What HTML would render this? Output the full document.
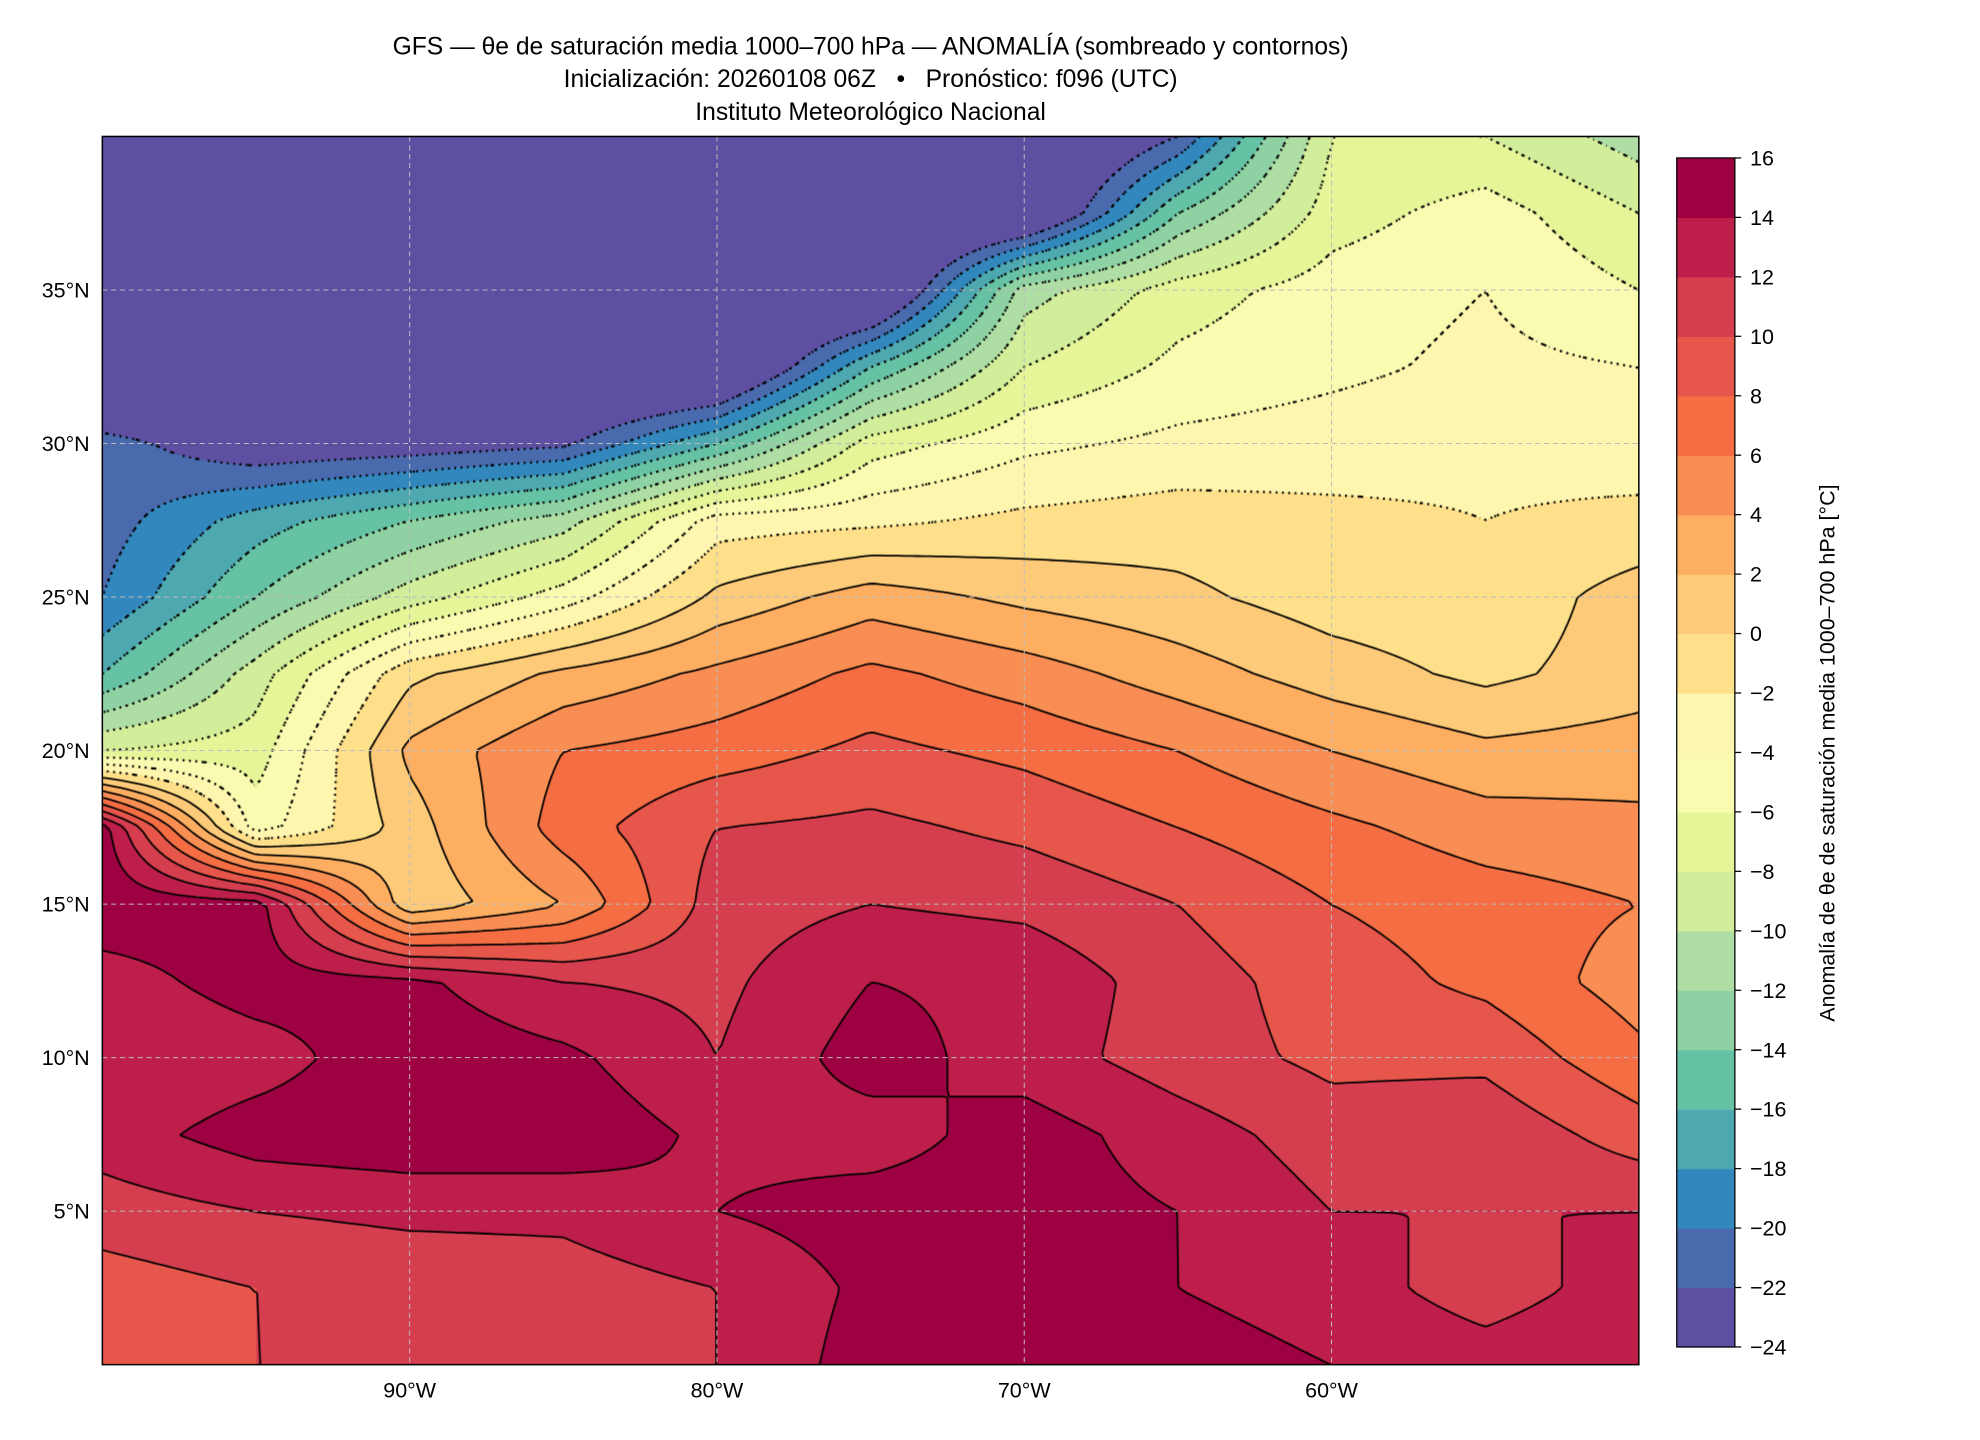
<!DOCTYPE html>
<html><head><meta charset="utf-8">
<style>
html,body{margin:0;padding:0;background:#fff;}
#wrap{position:absolute;left:0;top:0;width:1567px;height:1140px;transform:scale(1.26356);transform-origin:0 0;font-family:"Liberation Sans","DejaVu Sans",sans-serif;color:#000;}
.t{position:absolute;white-space:nowrap;}
</style></head>
<body>
<div id="wrap">
  <div class="t" style="left:0;width:1378px;top:24px;text-align:center;font-size:19.5px;line-height:26px;">GFS — θe de saturación media 1000–700 hPa — ANOMALÍA (sombreado y contornos)<br>Inicialización: 20260108 06Z &nbsp;&nbsp;•&nbsp;&nbsp; Pronóstico: f096 (UTC)<br>Instituto Meteorológico Nacional</div>
  <canvas id="map" width="1537" height="1228" style="position:absolute;left:81px;top:108px;width:1216px;height:972px;"></canvas>
  <svg id="ov" width="1567" height="1140" style="position:absolute;left:0;top:0;"></svg>
</div>
<script>
// grid: lon -100..-50 step 5, lat 40..0 step 2.5
const lons=[-100,-95,-90,-85,-80,-75,-70,-65,-60,-55,-50];
const lats=[40,37.5,35,32.5,30,27.5,25,22.5,20,17.5,15,12.5,10,7.5,5,2.5,0];
const row40=[-28,-28,-28,-28,-28,-28,-28,-22,-8,-8,-11];
const row375=[-28,-28,-28,-28,-28,-28,-27,-14,-7,-5,-8];
const row35=[-28,-28,-28,-28,-28,-28,-11,-7,-5,-4,-6];
const row325=[-28,-28,-28,-28,-28,-16,-8,-5.5,-4.5,-3.5,-4];
const row30=[-21,-24,-23.5,-22.5,-16,-7,-4.5,-3.5,-3,-2.5,-3];
const row275=[-21,-17,-14,-11,-3,-2.5,-1.5,-1,-1.5,-2,-1.5];
const row25=[-20,-14,-9,-5,0.5,3,1.5,0.5,-1,-1.5,1];
const row225=[-16,-9,-0.5,2.5,4.5,6.5,5,3,1,-0.5,1];
const row20=[-8,-7,2.5,6,7,8.5,7.5,6,4,2.5,3];
const row175=[15,-5,1,7,10,10.5,9.5,8,6.5,5,4.5];
const row15=[15.5,15,0.5,4,11,12,11.5,10,8,7,6];
const row125=[13,15,14.5,12,11.5,14,13.5,11,9,7.5,5];
const row10=[12,13,15.5,14.5,12,15,13,11,9.5,9.5,6.5];
const row75=[13,15,15.5,15.5,13.5,13,15,13,11,11.5,9];
const row5=[11,12,12.5,12.5,14,15,15,14,12,12,12];
const row25s=[9,10,10.5,11,12,14.5,15.5,14,13,11,13];
const row0=[8,10,10,10.5,12,15,15.5,15,14,13,14];
const grid=[row40,row375,row35,row325,row30,row275,row25,row225,row20,row175,row15,row125,row10,row75,row5,row25s,row0];
const levels=[-24,-22,-20,-18,-16,-14,-12,-10,-8,-6,-4,-2,0,2,4,6,8,10,12,14,16];
const tickLabels=["16","14","12","10","8","6","4","2","0","−2","−4","−6","−8","−10","−12","−14","−16","−18","−20","−22","−24"];
const colors=["#5e4fa2","#4a6aae","#3288bd","#4ea8b0","#66c2a5","#8ed2a4","#aedea3","#d3ee9b","#e6f598","#f8fbb0","#fef5ae","#fee08b","#fdca79","#fdae61","#f88e53","#f46d43","#e6564b","#d53e4f","#be1e4a","#9e0142"];
const lonTicks=[-90,-80,-70,-60];
const latTicks=[35,30,25,20,15,10,5];

const MX=81,MY=108,MW=1216,MH=972;
const LON0=-100,LON1=-50,LAT0=0,LAT1=40;
function xOf(lon){return MX+(lon-LON0)/(LON1-LON0)*MW;}
function yOf(lat){return MY+(LAT1-lat)/(LAT1-LAT0)*MH;}
function val(lon,lat){
  let c=(lon-lons[0])/5, r=(lats[0]-lat)/2.5;
  c=Math.max(0,Math.min(lons.length-1.0001,c)); r=Math.max(0,Math.min(lats.length-1.0001,r));
  const i=Math.floor(c),j=Math.floor(r),fx=c-i,fy=r-j;
  const a=grid[j][i],b=grid[j][i+1],d=grid[j+1][i],e=grid[j+1][i+1];
  return a*(1-fx)*(1-fy)+b*fx*(1-fy)+d*(1-fx)*fy+e*fx*fy;
}
function hex(h){return [parseInt(h.substr(1,2),16),parseInt(h.substr(3,2),16),parseInt(h.substr(5,2),16)];}
const rgb=colors.map(hex);
function band(v){let k=Math.floor((v-levels[0])/2);return Math.max(0,Math.min(colors.length-1,k));}

const cv=document.getElementById('map'),ctx=cv.getContext('2d');
const W=cv.width,H=cv.height,img=ctx.createImageData(W,H);
for(let py=0;py<H;py++){const lat=LAT1-(py+0.5)/H*(LAT1-LAT0);
  for(let px=0;px<W;px++){const lon=LON0+(px+0.5)/W*(LON1-LON0);
    const c=rgb[band(val(lon,lat))],o=(py*W+px)*4;
    img.data[o]=c[0];img.data[o+1]=c[1];img.data[o+2]=c[2];img.data[o+3]=255;}}
ctx.putImageData(img,0,0);

const sx=W/MW;
ctx.save();ctx.scale(sx,sx);ctx.strokeStyle='#000';
const step=5,NX=Math.ceil(MW/step)+1,NY=Math.ceil(MH/step)+1;
const F=[];for(let j=0;j<NY;j++){F[j]=[];for(let i=0;i<NX;i++){const x=Math.min(i*step,MW),y=Math.min(j*step,MH);F[j][i]=val(LON0+x/MW*(LON1-LON0),LAT1-y/MH*(LAT1-LAT0));}}
levels.forEach(L=>{
  if(L<=-24||L>=16)return;
  ctx.beginPath();
  for(let j=0;j<NY-1;j++)for(let i=0;i<NX-1;i++){
    const x0=i*step,y0=j*step,x1=Math.min(x0+step,MW),y1=Math.min(y0+step,MH);
    const v=[F[j][i],F[j][i+1],F[j+1][i+1],F[j+1][i]];
    const p=[[x0,y0],[x1,y0],[x1,y1],[x0,y1]];
    const pts=[];
    for(let k=0;k<4;k++){const a=v[k],b=v[(k+1)%4];
      if((a<L)!==(b<L)){const t=(L-a)/(b-a);const A=p[k],B=p[(k+1)%4];pts.push([A[0]+(B[0]-A[0])*t,A[1]+(B[1]-A[1])*t]);}}
    for(let k=0;k+1<pts.length;k+=2){ctx.moveTo(pts[k][0],pts[k][1]);ctx.lineTo(pts[k+1][0],pts[k+1][1]);}
  }
  if(L<0){ctx.setLineDash([1.5,3.5]);ctx.lineWidth=1.8;}else{ctx.setLineDash([]);ctx.lineWidth=1.4;}
  ctx.stroke();
});
ctx.restore();

const NS='http://www.w3.org/2000/svg',ov=document.getElementById('ov');
function mk(tag,attrs,parent){const e=document.createElementNS(NS,tag);for(const k in attrs)e.setAttribute(k,attrs[k]);(parent||ov).appendChild(e);return e;}
lonTicks.forEach(lon=>{
  const x=xOf(lon);
  const g=mk('line',{x1:x,x2:x,y1:MY,y2:MY+MH,stroke:'#bbb','stroke-width':0.8,'stroke-dasharray':'4 3'});
  
  
  const t=mk('text',{x:x,y:1106,'text-anchor':'middle','font-size':17,'font-family':'Liberation Sans, sans-serif'});
  t.textContent=(-lon)+'°W';
  
  
});
latTicks.forEach(lat=>{
  const y=yOf(lat);
  const g=mk('line',{x1:MX,x2:MX+MW,y1:y,y2:y,stroke:'#bbb','stroke-width':0.8,'stroke-dasharray':'4 3'});
  
  
  const t=mk('text',{x:71,y:y+6,'text-anchor':'end','font-size':17,'font-family':'Liberation Sans, sans-serif'});
  t.textContent=lat+'°N';
  
  
});
const fr=mk('rect',{x:MX,y:MY,width:MW,height:MH,fill:'none',stroke:'#000','stroke-width':1.2});



const CX=1327,CW=46,CY0=125,CY1=1066;
function cy(v){return CY1-(v-levels[0])/(levels[levels.length-1]-levels[0])*(CY1-CY0);}
colors.forEach((c,k)=>{
  const r=mk('rect',{x:CX,y:cy(levels[k+1]),width:CW,height:cy(levels[k])-cy(levels[k+1])+0.5,fill:c});
  
  
});
const cf=mk('rect',{x:CX,y:CY0,width:CW,height:CY1-CY0,fill:'none',stroke:'#000','stroke-width':1});


tickLabels.forEach((s,k)=>{
  const v=16-2*k,y=cy(v);
  mk('line',{x1:CX+CW,x2:CX+CW+5,y1:y,y2:y,stroke:'#000','stroke-width':1});
  const t=mk('text',{x:CX+CW+12,y:y+6,'font-size':17,'font-family':'Liberation Sans, sans-serif'});
  t.textContent=s;
  
  
});
const cl=mk('text',{x:0,y:0,'font-size':17,'text-anchor':'middle','font-family':'Liberation Sans, sans-serif',transform:'translate(1452,596) rotate(-90)'});
cl.textContent='Anomalía de θe de saturación media 1000–700 hPa [°C]';


</script>
</body></html>
